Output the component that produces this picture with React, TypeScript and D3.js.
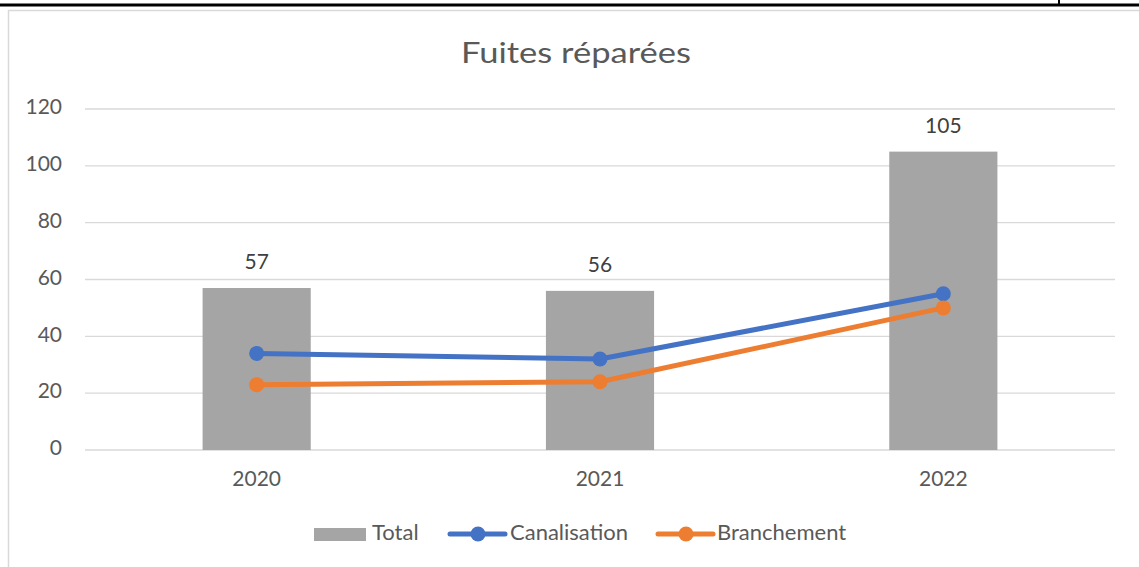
import React, { useEffect, useRef } from 'react';
import * as d3 from 'd3';

const years = ['2020', '2021', '2022'];
const total = [57, 56, 105];
const canalisation = [34, 32, 55];
const branchement = [23, 24, 50];
const yTicks = [0, 20, 40, 60, 80, 100, 120];

const FONT = 'Lato, Calibri, "Open Sans", sans-serif';
const TEXT = '#595959';

const App = () => {
  const ref = useRef<SVGSVGElement>(null);

  useEffect(() => {
    const svg = d3.select(ref.current);
    svg.selectAll('*').remove();

    const W = 1139;
    const H = 567;
    const left = 85;
    const right = 1115;
    const top = 109;
    const bottom = 450;

    // page frame
    svg.append('line').attr('x1', 0).attr('x2', W).attr('y1', 5).attr('y2', 5)
      .attr('stroke', '#000').attr('stroke-width', 3);
    svg.append('line').attr('x1', 1059).attr('x2', 1059).attr('y1', 0).attr('y2', 5)
      .attr('stroke', '#000').attr('stroke-width', 2);
    svg.append('rect').attr('x', 8.5).attr('y', 10.5).attr('width', W).attr('height', H)
      .attr('fill', '#fff').attr('stroke', '#D9D9D9').attr('stroke-width', 1.5);

    const x = d3.scaleBand().domain(years).range([left, right]).padding(0);
    const y = d3.scaleLinear().domain([0, 120]).range([bottom, top]);

    svg.append('text').attr('x', 576).attr('y', 63).attr('text-anchor', 'middle')
      .attr('font-family', FONT).attr('font-size', 28)
      .attr('textLength', 230).attr('lengthAdjust', 'spacingAndGlyphs')
      .attr('fill', TEXT).text('Fuites réparées');

    // grid + y labels
    const grid = svg.append('g');
    yTicks.forEach((t) => {
      grid.append('line').attr('x1', left).attr('x2', right).attr('y1', y(t)).attr('y2', y(t))
        .attr('stroke', '#D9D9D9').attr('stroke-width', 1.3);
      grid.append('text').attr('x', 62).attr('y', y(t)).attr('text-anchor', 'end')
        .attr('dominant-baseline', 'middle').attr('font-family', FONT).attr('font-size', 21)
        .attr('fill', TEXT).text(t);
    });

    // x labels
    years.forEach((yr) => {
      svg.append('text').attr('x', x(yr)! + x.bandwidth() / 2).attr('y', 481)
        .attr('text-anchor', 'middle').attr('dominant-baseline', 'middle')
        .attr('font-family', FONT).attr('font-size', 21).attr('fill', TEXT).text(yr);
    });

    // bars
    const barW = x.bandwidth() * 0.315;
    svg.append('g').selectAll('rect').data(total).enter().append('rect')
      .attr('x', (d, i) => x(years[i])! + (x.bandwidth() - barW) / 2)
      .attr('y', (d) => y(d))
      .attr('width', barW)
      .attr('height', (d) => bottom - y(d))
      .attr('fill', '#A5A5A5');

    svg.append('g').selectAll('text').data(total).enter().append('text')
      .attr('x', (d, i) => x(years[i])! + x.bandwidth() / 2)
      .attr('y', (d) => y(d) - 24)
      .attr('text-anchor', 'middle').attr('dominant-baseline', 'middle')
      .attr('font-family', FONT).attr('font-size', 21).attr('fill', '#404040')
      .text((d) => d);

    // lines
    const series = [
      { name: 'Canalisation', values: canalisation, color: '#4472C4' },
      { name: 'Branchement', values: branchement, color: '#ED7D31' },
    ];
    const line = d3.line<number>()
      .x((d, i) => x(years[i])! + x.bandwidth() / 2)
      .y((d) => y(d));
    series.forEach((s) => {
      svg.append('path').datum(s.values).attr('d', line).attr('fill', 'none')
        .attr('stroke', s.color).attr('stroke-width', 5).attr('stroke-linejoin', 'round')
        .attr('stroke-linecap', 'round');
      svg.append('g').selectAll('circle').data(s.values).enter().append('circle')
        .attr('cx', (d, i) => x(years[i])! + x.bandwidth() / 2)
        .attr('cy', (d) => y(d)).attr('r', 7.5).attr('fill', s.color);
    });

    // legend
    const ly = 534;
    const lg = svg.append('g').attr('font-family', FONT).attr('font-size', 22).attr('fill', TEXT);
    lg.append('rect').attr('x', 314).attr('y', ly - 6).attr('width', 52).attr('height', 13).attr('fill', '#A5A5A5');
    lg.append('text').attr('x', 372).attr('y', ly).attr('dominant-baseline', 'middle').text('Total');
    const legendLines = [
      { x0: 450, tx: 510, s: series[0] },
      { x0: 658, tx: 717, s: series[1] },
    ];
    legendLines.forEach((l) => {
      lg.append('line').attr('x1', l.x0).attr('x2', l.x0 + 55).attr('y1', ly).attr('y2', ly)
        .attr('stroke', l.s.color).attr('stroke-width', 5).attr('stroke-linecap', 'round');
      lg.append('circle').attr('cx', l.x0 + 28).attr('cy', ly).attr('r', 7.5).attr('fill', l.s.color);
      lg.append('text').attr('x', l.tx).attr('y', ly).attr('dominant-baseline', 'middle').text(l.s.name);
    });
  }, []);

  return (
    <svg ref={ref} width={1139} height={567}
      style={{ position: 'absolute', left: 0, top: 0, background: '#fff' }} />
  );
};

export default App;
